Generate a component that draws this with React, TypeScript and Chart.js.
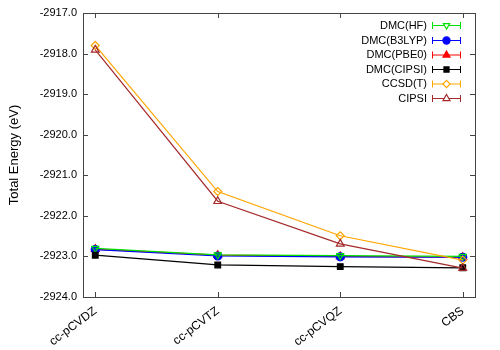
import React, { useEffect, useRef } from "react";
import { Chart, registerables } from "chart.js";
Chart.register(...registerables);

const categories = ["cc-pCVDZ", "cc-pCVTZ", "cc-pCVQZ", "CBS"];
const seriesNames = ["DMC(HF)", "DMC(B3LYP)", "DMC(PBE0)", "DMC(CIPSI)", "CCSD(T)", "CIPSI"];
const dmcHF = [-2922.8, -2922.96, -2922.98, -2923.0];
const dmcB3LYP = [-2922.83, -2922.99, -2923.01, -2923.02];
const dmcPBE0 = [-2922.82, -2922.97, -2923.0, -2923.02];
const dmcCIPSI = [-2922.97, -2923.21, -2923.25, -2923.28];
const ccsdt = [-2917.8, -2921.4, -2922.49, -2923.09];
const cipsi = [-2917.91, -2921.64, -2922.69, -2923.29];
const yTicks = [-2924, -2923, -2922, -2921, -2920, -2919, -2918, -2917];

const FONT = "'Liberation Sans', Arial, sans-serif";

type Style = { color: string; shape: string; fill: boolean; rot: number; r: number };
const styles: Style[] = [
  { color: "#00e000", shape: "triangle", fill: false, rot: 180, r: 4 },
  { color: "#0000ff", shape: "circle", fill: true, rot: 0, r: 4 },
  { color: "#ff0000", shape: "triangle", fill: true, rot: 0, r: 4.5 },
  { color: "#000000", shape: "rect", fill: true, rot: 0, r: 4 },
  { color: "#ffa500", shape: "rectRot", fill: false, rot: 0, r: 4 },
  { color: "#a52a2a", shape: "triangle", fill: false, rot: 0, r: 4.5 },
];
const allSeries = [dmcHF, dmcB3LYP, dmcPBE0, dmcCIPSI, ccsdt, cipsi];

function drawMarker(ctx: CanvasRenderingContext2D, s: Style, x: number, y: number) {
  const r = s.r * 0.9;
  ctx.beginPath();
  if (s.shape === "circle") {
    ctx.arc(x, y, r, 0, Math.PI * 2);
  } else if (s.shape === "rect") {
    const h = r / Math.SQRT2;
    ctx.rect(x - h, y - h, 2 * h, 2 * h);
  } else if (s.shape === "rectRot") {
    ctx.moveTo(x, y - r); ctx.lineTo(x + r, y); ctx.lineTo(x, y + r); ctx.lineTo(x - r, y);
    ctx.closePath();
  } else {
    const sign = s.rot === 180 ? -1 : 1;
    const side = r * 3 / Math.sqrt(3);
    const h = side * Math.sqrt(3) / 2;
    ctx.moveTo(x, y - sign * (2 / 3) * h);
    ctx.lineTo(x + side / 2, y + sign * h / 3);
    ctx.lineTo(x - side / 2, y + sign * h / 3);
    ctx.closePath();
  }
  ctx.fillStyle = s.fill ? s.color : "#fff";
  ctx.fill();
  ctx.strokeStyle = s.color;
  ctx.lineWidth = 1.2;
  ctx.stroke();
}

const framePlugin = {
  id: "frame",
  afterDraw(chart: any) {
    const { ctx, chartArea: a, scales } = chart;
    ctx.save();
    ctx.strokeStyle = "#444";
    ctx.lineWidth = 1;
    ctx.strokeRect(Math.round(a.left) + 0.5, Math.round(a.top) + 0.5, Math.round(a.right - a.left), Math.round(a.bottom - a.top));
    const L = 5;
    ctx.beginPath();
    yTicks.forEach((v) => {
      const y = Math.round(scales.y.getPixelForValue(v)) + 0.5;
      ctx.moveTo(a.left, y); ctx.lineTo(a.left + L, y);
      ctx.moveTo(a.right, y); ctx.lineTo(a.right - L, y);
    });
    categories.forEach((_, i) => {
      const x = Math.round(scales.x.getPixelForValue(i)) + 0.5;
      ctx.moveTo(x, a.bottom); ctx.lineTo(x, a.bottom - L);
      ctx.moveTo(x, a.top); ctx.lineTo(x, a.top + L);
    });
    ctx.stroke();

    // legend
    const textRight = 427;
    const x0 = 432, x1 = 461, xm = 446.5;
    const ys = [25, 40, 54.5, 69, 83.5, 98];
    ctx.font = `11px ${FONT}`;
    ctx.textAlign = "right";
    ctx.textBaseline = "middle";
    seriesNames.forEach((name, i) => {
      const s = styles[i];
      const y = ys[i];
      ctx.fillStyle = "#000";
      ctx.fillText(name, textRight, y + 0.5);
      ctx.strokeStyle = s.color;
      ctx.lineWidth = 1;
      ctx.beginPath();
      ctx.moveTo(x0, y + 0.5); ctx.lineTo(x1, y + 0.5);
      ctx.moveTo(x0 + 0.5, y - 3); ctx.lineTo(x0 + 0.5, y + 4);
      ctx.moveTo(x1 - 0.5, y - 3); ctx.lineTo(x1 - 0.5, y + 4);
      ctx.stroke();
      drawMarker(ctx, s, xm, y + 0.5);
    });
    ctx.restore();
  },
};

export default function App() {
  const ref = useRef<HTMLCanvasElement>(null);
  useEffect(() => {
    document.body.style.margin = "0";
    const datasets = allSeries.map((vals, i) => {
      const s = styles[i];
      return {
        label: seriesNames[i],
        data: vals.map((v, j) => ({ x: j, y: v })),
        borderColor: s.color,
        backgroundColor: s.fill ? s.color : "rgba(255,255,255,0)",
        pointBorderColor: s.color,
        pointBackgroundColor: s.fill ? s.color : "rgba(255,255,255,0)",
        pointStyle: s.shape,
        pointRotation: s.rot,
        pointRadius: s.r,
        pointBorderWidth: 1.2,
        borderWidth: 1.2,
        tension: 0,
        fill: false,
      };
    });
    const order = [5, 4, 3, 0, 1, 2];
    const ordered = order.map((k) => datasets[k]);
    const chart = new Chart(ref.current!, {
      type: "line",
      data: { datasets: ordered as any },
      options: {
        animation: false,
        responsive: false,
        maintainAspectRatio: false,
        layout: { padding: { left: 0, top: 13, right: 25, bottom: 0 } },
        plugins: { legend: { display: false }, tooltip: { enabled: false } },
        scales: {
          x: {
            type: "linear",
            min: -0.1,
            max: 3.1,
            grid: { display: false, drawTicks: false },
            border: { display: false },
            afterFit: (s: any) => { s.height = 53; },
            afterBuildTicks: (s: any) => { s.ticks = categories.map((_, i) => ({ value: i })); },
            ticks: {
              autoSkip: false,
              maxRotation: 37,
              minRotation: 37,
              padding: 7,
              color: "#000",
              font: { family: FONT, size: 12 },
              callback: (v: any) => categories[v] ?? "",
            },
          },
          y: {
            min: -2924,
            max: -2917,
            grid: { display: false, drawTicks: false },
            border: { display: false },
            afterFit: (s: any) => { s.width = 83; },
            afterBuildTicks: (s: any) => { s.ticks = yTicks.map((v) => ({ value: v })); },
            title: { display: true, text: "Total Energy (eV)", color: "#000", font: { family: FONT, size: 13 }, padding: { top: 7, bottom: 0 } },
            ticks: {
              padding: 6,
              color: "#000",
              font: { family: FONT, size: 11 },
              callback: (v: any) => Number(v).toFixed(1),
            },
          },
        },
      },
      plugins: [framePlugin],
    });
    return () => chart.destroy();
  }, []);
  return (
    <div style={{ position: "absolute", left: 0, top: 0, width: 500, height: 350, background: "#fff" }}>
      <canvas ref={ref} width={500} height={350} style={{ width: 500, height: 350 }} />
    </div>
  );
}
